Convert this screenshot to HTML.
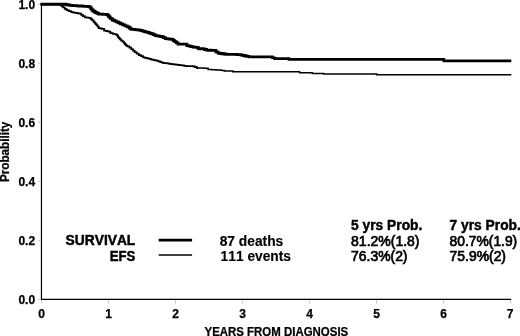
<!DOCTYPE html>
<html>
<head>
<meta charset="utf-8">
<title>Survival and EFS</title>
<style>
html,body{margin:0;padding:0;background:#fff;}
body{width:520px;height:336px;overflow:hidden;}
svg{display:block;}
text{font-kerning:none;font-family:"Liberation Sans","Arial","Helvetica",sans-serif;fill:#000;}
.b{font-weight:bold;}
.t12{font-size:12px;}
.t14{font-size:14px;}
.m{stroke:#000;stroke-width:0.7px;}
.b{stroke:#000;stroke-width:0.25px;}
.t14.b{stroke-width:0.45px;}
.t14.b .l{stroke-width:0.15px;}
</style>
</head>
<body>
<svg width="520" height="336" viewBox="0 0 520 336">
<rect x="0" y="0" width="520" height="336" fill="#ffffff"/>
<!-- axes -->
<g stroke="#000" fill="none" stroke-width="1.2">
<path d="M41.45 3.2 V299.45 H511.2"/>
</g>
<!-- ticks -->
<g stroke="#c8c8c8" stroke-width="1" fill="none">
<path d="M38.2 4.25H41 M38.2 63.30H41 M38.2 122.35H41 M38.2 181.40H41 M38.2 240.45H41 M38.2 299.50H41"/>
<path d="M41.5 300.2V303.4 M108.5 300.2V303.4 M175.5 300.2V303.4 M242.5 300.2V303.4 M309.5 300.2V303.4 M376.5 300.2V303.4 M443.5 300.2V303.4 M510.5 300.2V303.4"/>
</g>
<!-- y tick labels -->
<g class="b t12" text-anchor="end">
<text x="35.1" y="9.0">1.0</text>
<text x="35.1" y="67.50">0.8</text>
<text x="35.1" y="126.55">0.6</text>
<text x="35.1" y="185.60">0.4</text>
<text x="35.1" y="244.65">0.2</text>
<text x="35.1" y="303.70">0.0</text>
</g>
<!-- x tick labels -->
<g class="b t12" text-anchor="middle">
<text x="41.5" y="318.1">0</text>
<text x="108.5" y="318.1">1</text>
<text x="175.5" y="318.1">2</text>
<text x="242.5" y="318.1">3</text>
<text x="309.5" y="318.1">4</text>
<text x="376.5" y="318.1">5</text>
<text x="443.5" y="318.1">6</text>
<text x="510.1" y="318.1">7</text>
</g>
<text class="b t12" x="204.5" y="336" textLength="143.7" lengthAdjust="spacingAndGlyphs">YEARS FROM DIAGNOSIS</text>
<text class="b t12" transform="translate(9,182.1) rotate(-90)" textLength="60.4" lengthAdjust="spacingAndGlyphs">Probability</text>
<!-- curves -->
<path id="surv-a" fill="none" stroke="#000" stroke-width="2.8" stroke-linejoin="miter" d="M40.5 4.25H65.3H66.2V4.63H67.2H68.2V5.02H69.1H70.0V5.40H71.0H72.2V5.55H73.3H74.5V5.70H75.6H76.8V5.85H77.9H79.1V6.00H80.2H81.4V6.15H82.6H83.7V6.30H84.9H86.0V6.45H87.2H88.3V6.60H89.5H90.0V7.40H90.5H90.9V8.70H91.3H91.8V10.00H92.2H93.2V11.25H94.2H95.1V12.50H96.1H97.0V13.30H97.8H98.7V14.10H99.6H100.6V14.22H101.6H102.6V14.35H103.7H104.7V14.47H105.7H106.7V14.60H107.7H108.1V15.75H108.5H108.9V16.90H109.3H110.2V18.45H111.2H112.1V20.00H113.1H114.1V20.93H115.2H116.2V21.87H117.2H118.3V22.80H119.3H120.4V23.80H121.5H122.7V24.80H123.8H124.9V25.80H126.0H127.2V26.90H128.5H129.2V28.00H129.9H130.7V29.10H131.4H132.5V29.35H133.6H134.6V29.60H135.7H136.8V29.85H137.8H138.9V30.10H140.0H141.0V30.70H142.0H143.1V31.30H144.1H145.1V31.90H146.1H147.1V32.47H148.1H149.1V33.03H150.1H151.1V33.60H152.1H153.1V34.60H154.1H155.2V35.60H156.2H157.2V35.97H158.2H159.2V36.33H160.3H161.3V36.70H162.3H163.3V37.70H164.3H165.3V38.70H166.3H167.3V38.93H168.3H169.4V39.17H170.4H171.4V39.40H172.4H173.2V40.55H173.9H174.7V41.70H175.4H176.3V42.95H177.2H178.1V44.20H179.0H185.5H186.8V45.60H188.0H189.0V46.10H190.0H191.1V46.60H192.1H193.1V47.10H194.1H195.6V47.30H197.0H198.2V48.70H199.3H200.4V48.75H201.5H202.6V48.80H203.7H204.7V49.50H205.6H206.6V50.20H207.6H208.8V50.27H209.9H211.1V50.33H212.3H213.4V50.40H214.6H215.8V51.80H216.9H218.0V53.20H219.2H220.2V53.48H221.1H222.1V53.75H223.1H224.1V54.02H225.1H226.0V54.30H227.0H228.1V54.33H229.2H230.2V54.37H231.3H232.4V54.40H233.5H234.6V54.47H235.7H236.8V54.53H237.8H238.9V54.60H240.0H241.0V55.06H242.0H243.1V55.52H244.1H245.1V55.98H246.1H247.1V56.44H248.2H249.2V56.90H250.2"/>
<path id="surv-b" fill="none" stroke="#000" stroke-width="2.6" stroke-linejoin="miter" d="M250.2 56.90H271.4H272.4V57.75H273.4H274.5V58.60H275.5H288.1H288.9V59.40H289.6H443.0H443.8V60.90H444.5H511.3"/>
<path id="efs-a" fill="none" stroke="#000" stroke-width="1.75" stroke-linejoin="miter" d="M40.5 4.25H57.5H58.4V4.72H59.2H60.1V5.20H61.0H61.7V6.25H62.5H63.2V7.30H63.9H64.8V8.75H65.7H66.6V10.20H67.5H68.7V11.15H70.0H71.2V12.10H72.4H73.4V12.50H74.4H75.4V12.90H76.5H77.5V13.30H78.5H79.5V13.70H80.5H81.2V14.95H82.0H82.8V16.20H83.5H84.8V17.30H86.0H87.0V17.60H88.0H88.9V17.90H89.9H90.7V19.10H91.5H92.2V20.30H93.0H93.5V21.60H94.0H94.5V22.90H95.1H95.6V24.20H96.1H96.6V25.47H97.1H97.7V26.73H98.2H98.7V28.00H99.2H100.1V28.40H101.0H101.8V28.80H102.7H104.1V30.50H105.4H106.4V31.00H107.3H108.3V31.50H109.3H110.4V33.10H111.6H112.9V33.85H114.3H115.7V34.60H117.0H117.4V35.80H117.7H118.1V37.00H118.5H118.8V38.20H119.2H119.9V39.37H120.6H121.2V40.53H121.9H122.6V41.70H123.3H123.8V42.90H124.3H124.8V44.10H125.3H125.8V45.30H126.3H127.3V46.45H128.3H129.4V47.60H130.4H131.2V49.07H132.1H132.9V50.53H133.7H134.6V52.00H135.4H136.6V53.50H137.7H138.8V55.00H140.0H141.0V56.15H142.0H143.0V57.30H144.0H145.0V57.83H146.0H147.1V58.37H148.1H149.1V58.90H150.1H151.3V59.50H152.5H153.6V60.10H154.8H156.0V60.70H157.2H158.2V61.40H159.2H160.2V62.10H161.3H162.3V62.80H163.3H164.5V63.13H165.7H166.9V63.47H168.0H169.2V63.80H170.4H171.4V64.06H172.4H173.4V64.32H174.4H175.4V64.58H176.5H177.5V64.84H178.5H179.5V65.10H180.5H181.7V65.43H182.9H184.1V65.77H185.2H186.4V66.10H187.6H188.7V66.17H189.7H190.8V66.23H191.9H192.9V66.30H194.0H195.0V67.15H196.0H197.0V68.00H198.0"/>
<path id="efs-b" fill="none" stroke="#000" stroke-width="1.5" stroke-linejoin="miter" d="M198.0 68.00H199.1V68.05H200.3H201.4V68.10H202.6H203.7V68.15H204.8H206.0V68.20H207.1H208.1V69.40H209.2H210.2V69.53H211.2H212.2V69.67H213.2H214.2V69.80H215.2H216.3V69.93H217.3H218.3V70.07H219.3H220.3V70.20H221.3H222.3V70.60H223.4H224.4V71.00H225.4H231.4H232.9V71.80H234.5H299.0H299.6V72.70H300.2H311.8H312.4V73.40H313.0H323.0H323.6V74.05H324.2H376.0H376.6V74.70H377.2H511.3"/>
<!-- legend -->
<g class="b t14">
<text x="65.6" y="245.3" textLength="69.7" lengthAdjust="spacingAndGlyphs">SURVIVAL</text>
<text x="109.8" y="260.6" textLength="25.6" lengthAdjust="spacingAndGlyphs">EFS</text>
</g>
<path d="M158.7 240.1H192.1" stroke="#000" stroke-width="2.6" fill="none"/>
<path d="M158.7 254.9H192.1" stroke="#000" stroke-width="1.5" fill="none"/>
<g class="t14 b">
<text class="l" x="219.7" y="245.5" textLength="63.6" lengthAdjust="spacingAndGlyphs">87 deaths</text>
<text class="l" x="220.6" y="260.6" textLength="70.4" lengthAdjust="spacingAndGlyphs">111 events</text>
<text x="351.1" y="230.3" textLength="71.2" lengthAdjust="spacingAndGlyphs">5 yrs Prob.</text>
<text x="449.6" y="230.3" textLength="71.2" lengthAdjust="spacingAndGlyphs">7 yrs Prob.</text>
</g>
<g class="t14 m">
<text x="351.1" y="245.5" textLength="68.4" lengthAdjust="spacingAndGlyphs">81.2%(1.8)</text>
<text x="351.1" y="260.6" textLength="56.4" lengthAdjust="spacingAndGlyphs">76.3%(2)</text>
<text x="449.6" y="245.5" textLength="67.6" lengthAdjust="spacingAndGlyphs">80.7%(1.9)</text>
<text x="449.6" y="260.6" textLength="56.4" lengthAdjust="spacingAndGlyphs">75.9%(2)</text>
</g>
</svg>
</body>
</html>
